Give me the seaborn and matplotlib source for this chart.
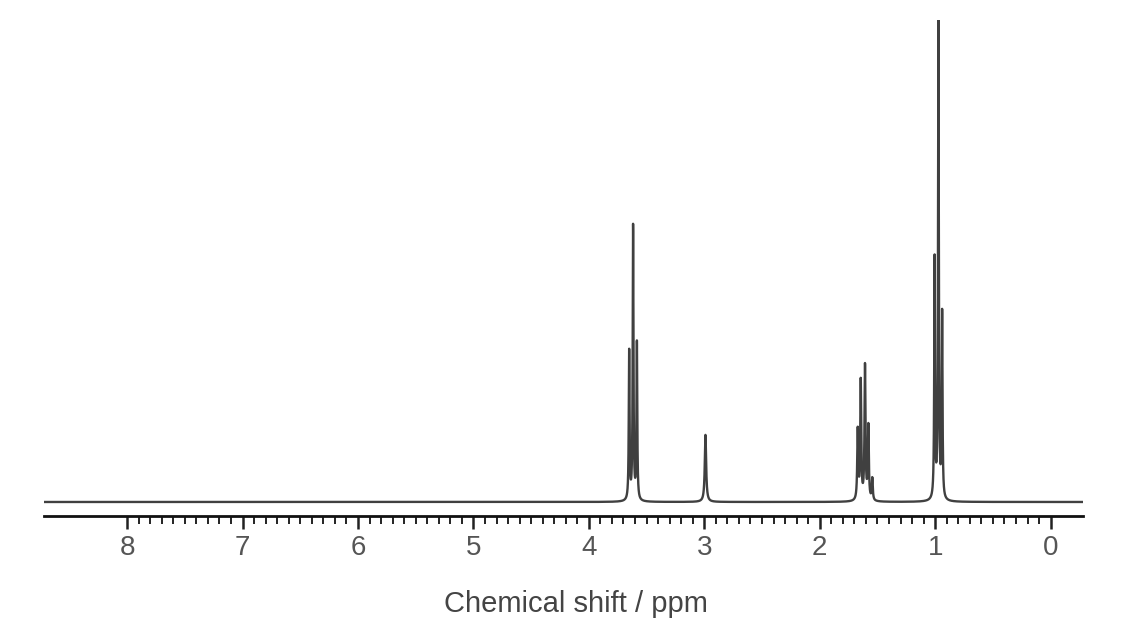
import numpy as np
import pandas as pd
import matplotlib
matplotlib.use("Agg")
import matplotlib.pyplot as plt
import seaborn as sns
from matplotlib.ticker import FixedLocator

# peak list: position (ppm), height (% of tallest line), half width (ppm)
PEAK_PPM = [3.651, 3.617, 3.584, 2.990, 1.671, 1.645, 1.608, 1.579, 1.545, 1.005, 0.972, 0.940]
PEAK_HEIGHT = [31.1, 57.2, 32.8, 14.0, 14.6, 24.8, 28.0, 15.4, 4.6, 50.1, 100.0, 38.6]
PEAK_HWHM = [0.004, 0.004, 0.004, 0.007, 0.005, 0.005, 0.005, 0.005, 0.005, 0.004, 0.004, 0.004]

PPM_RANGE = (8.72, -0.28)
MAJOR_TICKS = [0, 1, 2, 3, 4, 5, 6, 7, 8]
XLABEL = "Chemical shift / ppm"

# spectrum trace: lorentzian line per peak on a fine ppm grid
ppm = np.linspace(PPM_RANGE[0], PPM_RANGE[1], 60000)
intensity = np.zeros_like(ppm)
for p, h, w in zip(PEAK_PPM, PEAK_HEIGHT, PEAK_HWHM):
    intensity += h * w**2 / ((ppm - p)**2 + w**2)
df = pd.DataFrame({"ppm": ppm, "intensity": intensity})

sns.set_style("white")
plt.rcParams['font.family'] = ['Liberation Sans', 'DejaVu Sans']

fig = plt.figure(figsize=(11.22, 6.3), dpi=100)
ax = fig.add_axes([0.0392, 0.181, 0.926, 0.787])

sns.lineplot(data=df, x="ppm", y="intensity", ax=ax, color="#404040",
             linewidth=1.7, estimator=None, sort=False)

ax.set_xlim(*PPM_RANGE)
ax.set_ylim(-2.92, 100.6)

for s in ["top", "left", "right"]:
    ax.spines[s].set_visible(False)
ax.spines["bottom"].set_color("#111111")
ax.spines["bottom"].set_linewidth(2.0)

ax.xaxis.set_major_locator(FixedLocator(MAJOR_TICKS))
minor = [round(v, 1) for v in np.arange(0, 8.01, 0.1) if abs(v - round(v)) > 1e-6]
ax.xaxis.set_minor_locator(FixedLocator(minor))
ax.tick_params(axis="x", which="major", bottom=True, length=9, width=1.8,
               color="#222222", labelsize=20, labelcolor="#555555", pad=5)
ax.tick_params(axis="x", which="minor", bottom=True, length=5.5, width=1.4,
               color="#222222")
ax.set_yticks([])
ax.set_ylabel("")
ax.set_xlabel(XLABEL, fontsize=21, color="#444444")
ax.xaxis.set_label_coords(0.512, -0.15)

fig.savefig("out.png", dpi=100, facecolor="white")
